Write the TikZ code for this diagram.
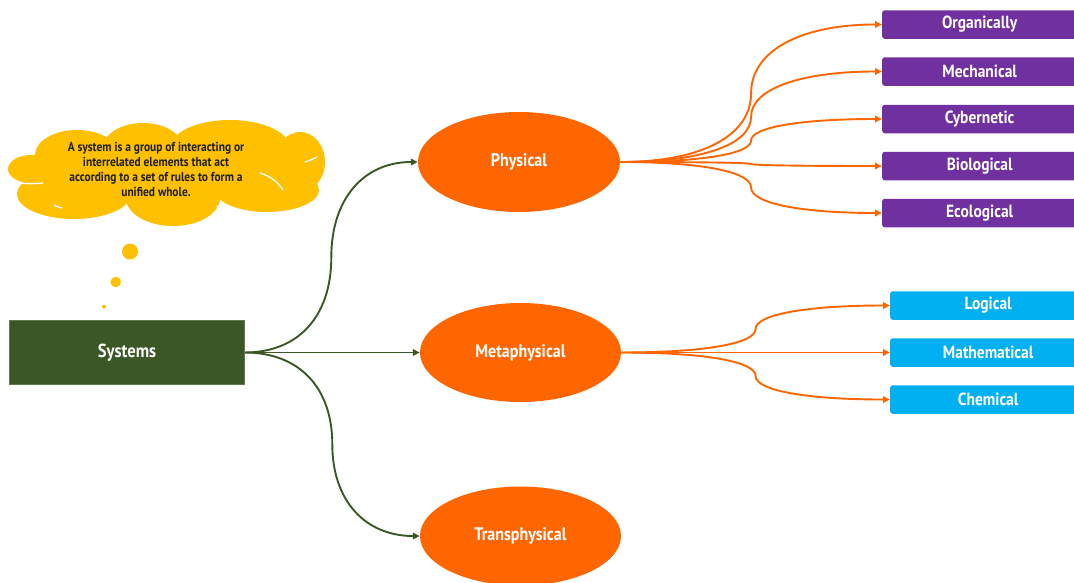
\documentclass[tikz,border=0pt]{standalone}
\usepackage{fontspec}
\setmainfont{PT Sans}[FakeStretch=0.88]
\usetikzlibrary{shapes.geometric,arrows.meta,calc}

\definecolor{sysgreen}{HTML}{3B5726}
\definecolor{ovalorange}{HTML}{FF6600}
\definecolor{notepurple}{HTML}{7030A0}
\definecolor{noteblue}{HTML}{00B0F0}
\definecolor{cloudyellow}{HTML}{FFC000}
\definecolor{inktext}{HTML}{1F1F1F}

\tikzset{
  every node/.style={font=\bfseries},
  sysbox/.style={rectangle, fill=sysgreen, draw=sysgreen!80!white, line width=0.6pt,
    minimum width=235, minimum height=64, inner sep=0pt, text=white,
    font=\bfseries\fontsize{18.9}{21}\selectfont},
  oval/.style={ellipse, fill=ovalorange, minimum width=202, minimum height=100,
    inner sep=0pt, text=white, font=\bfseries\fontsize{18.2}{21}\selectfont},
  leafbox/.style={rectangle, rounded corners=2.5pt, minimum height=28.5,
    inner sep=0pt, text=white, anchor=west, font=\bfseries\fontsize{17.6}{20}\selectfont},
  purplebox/.style={leafbox, fill=notepurple, minimum width=195},
  bluebox/.style={leafbox, fill=noteblue, minimum width=196},
  bubble/.style={circle, fill=cloudyellow, inner sep=0pt},
  % two quarter-bends meeting half way, vertical at the middle
  elbow/.style={to path={
    let \p1=(\tikztostart), \p2=(\tikztotarget), \p3=($(\p1)!0.5!(\p2)$) in
    .. controls ($(\p1)!0.62!(\x3,\y1)$) and ($(\p3)!0.62!(\x3,\y1)$) .. (\p3)
    .. controls ($(\p3)!0.62!(\x3,\y2)$) and ($(\p2)!0.62!(\x3,\y2)$) .. (\tikztotarget)
    \tikztonodes}},
  greenlink/.style={draw=sysgreen, line width=1.9pt,
    -{Triangle[length=7pt,width=6.5pt]}},
  orangelink/.style={draw=ovalorange, line width=1.9pt,
    -{Triangle[length=7pt,width=6.5pt]}},
  cloudpuff/.style={fill=cloudyellow},
  cloudline/.style={draw=white, line width=1.3pt, line cap=round},
}

\begin{document}
\begin{tikzpicture}[x=1pt,y=-1pt]
\useasboundingbox (0,0) rectangle (1074,582);

% thought cloud made of overlapping puffs
\begin{scope}
  \fill[cloudpuff] (77,155) ellipse [x radius=42, y radius=25];
  \fill[cloudpuff] (143,148) ellipse [x radius=40, y radius=25];
  \fill[cloudpuff] (230,148) ellipse [x radius=60, y radius=28];
  \fill[cloudpuff] (300,162) ellipse [x radius=25, y radius=30];
  \fill[cloudpuff] (267,190) ellipse [x radius=52, y radius=22];
  \fill[cloudpuff] (173,198) ellipse [x radius=47, y radius=28];
  \fill[cloudpuff] (74,194) ellipse [x radius=57, y radius=25];
  \fill[cloudpuff] (31,169) ellipse [x radius=23, y radius=14];
  \fill[cloudpuff] (45,150) rectangle (290,200);
  \draw[cloudline] (12,182) .. controls (22,184) and (34,184) .. (43,183);
  \draw[cloudline] (260,173) .. controls (270,176) and (278,182) .. (283,190);
  \draw[cloudline] (305,162) .. controls (309,161) and (313,159) .. (317,157);
  \draw[cloudline] (54,205) .. controls (57,207) and (59,207) .. (62,208);
  \draw[cloudline] (217,206) .. controls (219,209) and (220,211) .. (221,213);
  \draw[cloudline] (287,130) .. controls (290,131) and (292,132) .. (294,133);
\end{scope}
\node[text=inktext, align=center, font=\bfseries\fontsize{13}{15.3}\selectfont]
  (note) at (156,169.5)
  {A system is a group of interacting or\\interrelated elements that act\\according to a set of rules to form a\\unified whole.};
\node[bubble, minimum size=16] (b1) at (130,251.5) {};
\node[bubble, minimum size=10.5] (b2) at (115.7,282) {};
\node[bubble, minimum size=4] (b3) at (104,306.7) {};

% main nodes
\node[sysbox] (sys) at (127,352.5) {Systems};
\node[oval] (phy) at (519,162) {Physical};
\node[oval, minimum width=201, minimum height=99] (meta) at (520.5,352.5) {Metaphysical};
\node[oval, minimum width=201, minimum height=99] (trans) at (520.5,536) {Transphysical};

% leaves of Physical
\node[purplebox] (org) at (882,24.5) {Organically};
\node[purplebox] (mech) at (882,71.5) {Mechanical};
\node[purplebox] (cyb) at (882,119) {Cybernetic};
\node[purplebox] (bio) at (882,166) {Biological};
\node[purplebox] (eco) at (882,213) {Ecological};

% leaves of Metaphysical
\node[bluebox] (log) at (890,305.5) {Logical};
\node[bluebox] (math) at (890,352.5) {Mathematical};
\node[bluebox] (chem) at (890,399.5) {Chemical};

% connectors
\draw[greenlink] (sys.east) to[elbow] (phy.west);
\draw[greenlink] (sys.east) -- (meta.west);
\draw[greenlink] (sys.east) to[elbow] (trans.west);

\foreach \leaf in {org,mech,cyb,bio,eco}
  \draw[orangelink] (phy.east) to[elbow] (\leaf.west);
\foreach \leaf in {log,chem}
  \draw[orangelink] (meta.east) to[elbow] (\leaf.west);
\draw[orangelink] (meta.east) -- (math.west);
\end{tikzpicture}
\end{document}
